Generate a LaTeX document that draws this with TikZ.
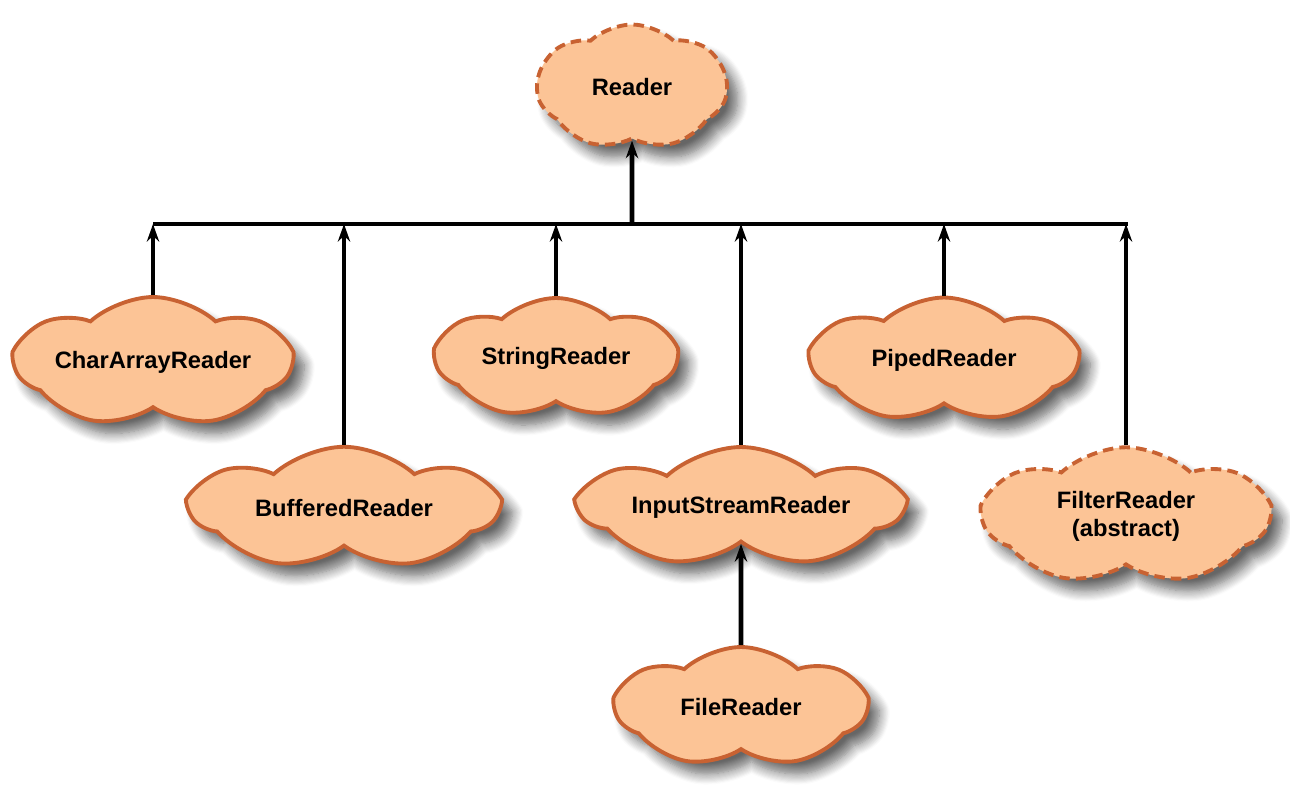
\documentclass[tikz,border=0pt]{standalone}
\usepackage{fontspec}
\setmainfont{Liberation Sans}
\usetikzlibrary{arrows.meta,shapes.symbols,shadows,shadows.blur,calc}

\definecolor{cloudfill}{RGB}{252,196,150}
\definecolor{cloudline}{RGB}{200,98,50}

\begin{document}
\begin{tikzpicture}[x=0.02cm,y=-0.02cm,>={Stealth[length=10pt,width=7pt]},
                class node/.style={cloud,cloud puffs=7,cloud puff arc=85,cloud ignores aspect,
                    draw=cloudline,fill=cloudfill,line width=2.2pt,
                    font=\fontsize{13.5}{16}\selectfont\bfseries,align=center,
                    blur shadow={shadow xshift=6pt,shadow yshift=-7pt,shadow blur radius=6pt,
                        shadow blur steps=10,shadow opacity=60}},
                abstract node/.style={class node,dash pattern=on 6pt off 3.5pt},
                link/.style={->,line width=2.6pt}]
            \useasboundingbox (0,0) rectangle (1290,796);
            % top of the tree
            \node[abstract node,minimum width=3.8cm,minimum height=2.5cm] (reader) at (632,87) {Reader};
            \coordinate (busL) at (153,224);
            \coordinate (busR) at (1128,224);
            \coordinate (busM) at (632,224);
            % subclasses
            \node[class node,minimum width=5.5cm,minimum height=2.6cm] (chararray) at (153,362) {CharArrayReader};
            \node[class node,minimum width=6.1cm,minimum height=2.45cm] (buffered) at (344,508) {BufferedReader};
            \node[class node,minimum width=4.8cm,minimum height=2.4cm] (string) at (556,358) {StringReader};
            \node[class node,minimum width=6.4cm,minimum height=2.4cm] (inputstream) at (741,507) {InputStreamReader};
            \node[class node,minimum width=5.3cm,minimum height=2.5cm] (piped) at (944,360) {PipedReader};
            \node[abstract node,minimum width=5.7cm,minimum height=2.75cm] (filter) at (1126,516) {FilterReader\\(abstract)};
            \node[class node,minimum width=5.0cm,minimum height=2.4cm] (file) at (741,707) {FileReader};
            % connectors
            \draw[line width=2.6pt] (busL) -- (busR);
            \draw[link] (busM) -- (reader.south);
            \foreach \n in {chararray,buffered,string,inputstream,piped,filter}
                \draw[link] (\n.north) -- (\n.north |- busL);
            \draw[link] (file.north) -- (inputstream.south);
        \end{tikzpicture}
\end{document}
